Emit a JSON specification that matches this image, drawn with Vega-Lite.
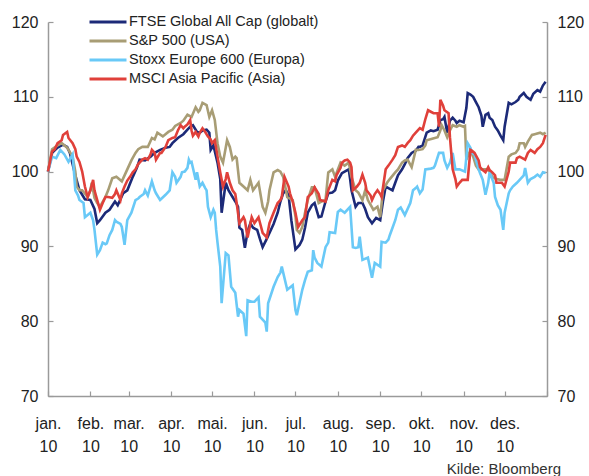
{
"$schema":"https://vega.github.io/schema/vega-lite/v6.json",
"width":499,"height":374,
"autosize":"none",
"padding":{"left":48,"top":22,"right":42,"bottom":80},
"background":"white",
"config":{"view":{"stroke":null},"font":"Liberation Sans"},
"title":{"text":"Kilde: Bloomberg","orient":"bottom","anchor":"end","frame":"group","dx":14,"fontSize":15,"fontWeight":"normal","font":"Liberation Sans","color":"#333","offset":8},
"datasets":{"names":[{"s":"F","serie":"FTSE Global All Cap (globalt)"},{"s":"U","serie":"S&P 500 (USA)"},{"s":"E","serie":"Stoxx Europe 600 (Europa)"},{"s":"A","serie":"MSCI Asia Pacific (Asia)"}]},
"data":{"values":[
{"s":"F","d":"2010-01-01","v":100},{"s":"F","d":"2010-01-04","v":102.5},{"s":"F","d":"2010-01-08","v":103.2},{"s":"F","d":"2010-01-12","v":103.6},{"s":"F","d":"2010-01-15","v":103.3},{"s":"F","d":"2010-01-17","v":102.5},{"s":"F","d":"2010-01-21","v":99.5},{"s":"F","d":"2010-01-24","v":97.5},{"s":"F","d":"2010-01-28","v":96.3},{"s":"F","d":"2010-02-01","v":96.2},{"s":"F","d":"2010-02-04","v":95},{"s":"F","d":"2010-02-06","v":93.1},{"s":"F","d":"2010-02-08","v":93.5},{"s":"F","d":"2010-02-12","v":94.5},{"s":"F","d":"2010-02-15","v":94.9},{"s":"F","d":"2010-02-19","v":96},{"s":"F","d":"2010-02-21","v":95.5},{"s":"F","d":"2010-02-25","v":97.1},{"s":"F","d":"2010-02-28","v":97.5},{"s":"F","d":"2010-03-04","v":99.3},{"s":"F","d":"2010-03-07","v":100.5},{"s":"F","d":"2010-03-09","v":101.6},{"s":"F","d":"2010-03-13","v":101.5},{"s":"F","d":"2010-03-17","v":102},{"s":"F","d":"2010-03-20","v":102.5},{"s":"F","d":"2010-03-24","v":102.9},{"s":"F","d":"2010-03-28","v":103.2},{"s":"F","d":"2010-03-31","v":103.3},{"s":"F","d":"2010-04-02","v":103.8},{"s":"F","d":"2010-04-06","v":104.5},{"s":"F","d":"2010-04-10","v":105},{"s":"F","d":"2010-04-13","v":105.6},{"s":"F","d":"2010-04-15","v":106},{"s":"F","d":"2010-04-17","v":106.2},{"s":"F","d":"2010-04-20","v":105.3},{"s":"F","d":"2010-04-22","v":105.2},{"s":"F","d":"2010-04-24","v":105.5},{"s":"F","d":"2010-04-27","v":105.6},{"s":"F","d":"2010-04-29","v":105.2},{"s":"F","d":"2010-04-30","v":102.9},{"s":"F","d":"2010-05-02","v":103.5},{"s":"F","d":"2010-05-05","v":101.2},{"s":"F","d":"2010-05-07","v":99},{"s":"F","d":"2010-05-08","v":94.5},{"s":"F","d":"2010-05-11","v":98.5},{"s":"F","d":"2010-05-13","v":97.5},{"s":"F","d":"2010-05-16","v":96.6},{"s":"F","d":"2010-05-18","v":96},{"s":"F","d":"2010-05-20","v":95.3},{"s":"F","d":"2010-05-21","v":92.5},{"s":"F","d":"2010-05-23","v":92.2},{"s":"F","d":"2010-05-25","v":89.8},{"s":"F","d":"2010-05-27","v":92},{"s":"F","d":"2010-05-29","v":93.1},{"s":"F","d":"2010-05-31","v":92.5},{"s":"F","d":"2010-06-03","v":92.2},{"s":"F","d":"2010-06-05","v":91},{"s":"F","d":"2010-06-07","v":89.9},{"s":"F","d":"2010-06-10","v":91},{"s":"F","d":"2010-06-12","v":91.8},{"s":"F","d":"2010-06-15","v":93},{"s":"F","d":"2010-06-18","v":94.5},{"s":"F","d":"2010-06-20","v":96},{"s":"F","d":"2010-06-22","v":97.1},{"s":"F","d":"2010-06-24","v":97.5},{"s":"F","d":"2010-06-26","v":96.8},{"s":"F","d":"2010-06-28","v":93.5},{"s":"F","d":"2010-06-29","v":92.2},{"s":"F","d":"2010-07-01","v":89.6},{"s":"F","d":"2010-07-04","v":90.2},{"s":"F","d":"2010-07-06","v":90.9},{"s":"F","d":"2010-07-08","v":92.5},{"s":"F","d":"2010-07-10","v":94.5},{"s":"F","d":"2010-07-13","v":95.5},{"s":"F","d":"2010-07-15","v":95.8},{"s":"F","d":"2010-07-18","v":93.9},{"s":"F","d":"2010-07-20","v":94},{"s":"F","d":"2010-07-23","v":96},{"s":"F","d":"2010-07-25","v":97.1},{"s":"F","d":"2010-07-28","v":97.2},{"s":"F","d":"2010-07-30","v":97.5},{"s":"F","d":"2010-08-01","v":98.8},{"s":"F","d":"2010-08-04","v":99.8},{"s":"F","d":"2010-08-06","v":100},{"s":"F","d":"2010-08-09","v":100.3},{"s":"F","d":"2010-08-10","v":99},{"s":"F","d":"2010-08-11","v":97.5},{"s":"F","d":"2010-08-14","v":95.3},{"s":"F","d":"2010-08-16","v":95.8},{"s":"F","d":"2010-08-19","v":95.8},{"s":"F","d":"2010-08-21","v":95},{"s":"F","d":"2010-08-23","v":93.9},{"s":"F","d":"2010-08-26","v":93.1},{"s":"F","d":"2010-08-29","v":93.8},{"s":"F","d":"2010-09-01","v":93.5},{"s":"F","d":"2010-09-03","v":96},{"s":"F","d":"2010-09-05","v":98},{"s":"F","d":"2010-09-07","v":97.8},{"s":"F","d":"2010-09-10","v":97.5},{"s":"F","d":"2010-09-12","v":98.5},{"s":"F","d":"2010-09-14","v":99.5},{"s":"F","d":"2010-09-17","v":100.3},{"s":"F","d":"2010-09-19","v":101},{"s":"F","d":"2010-09-21","v":101.8},{"s":"F","d":"2010-09-24","v":102.5},{"s":"F","d":"2010-09-27","v":102.8},{"s":"F","d":"2010-09-29","v":103.3},{"s":"F","d":"2010-09-30","v":103.3},{"s":"F","d":"2010-10-02","v":103.5},{"s":"F","d":"2010-10-05","v":105.2},{"s":"F","d":"2010-10-08","v":105.5},{"s":"F","d":"2010-10-10","v":105.4},{"s":"F","d":"2010-10-13","v":105.6},{"s":"F","d":"2010-10-15","v":106.9},{"s":"F","d":"2010-10-17","v":107},{"s":"F","d":"2010-10-18","v":107.3},{"s":"F","d":"2010-10-20","v":105.2},{"s":"F","d":"2010-10-22","v":106.8},{"s":"F","d":"2010-10-24","v":107.2},{"s":"F","d":"2010-10-26","v":106.8},{"s":"F","d":"2010-10-27","v":106.5},{"s":"F","d":"2010-10-29","v":106.8},{"s":"F","d":"2010-11-01","v":106.6},{"s":"F","d":"2010-11-03","v":108.5},{"s":"F","d":"2010-11-04","v":110.5},{"s":"F","d":"2010-11-06","v":110.3},{"s":"F","d":"2010-11-08","v":110},{"s":"F","d":"2010-11-10","v":109.3},{"s":"F","d":"2010-11-12","v":108.6},{"s":"F","d":"2010-11-14","v":107.5},{"s":"F","d":"2010-11-15","v":106},{"s":"F","d":"2010-11-17","v":107.6},{"s":"F","d":"2010-11-19","v":107.8},{"s":"F","d":"2010-11-20","v":107.2},{"s":"F","d":"2010-11-22","v":106.9},{"s":"F","d":"2010-11-24","v":106},{"s":"F","d":"2010-11-26","v":105.5},{"s":"F","d":"2010-11-28","v":104.8},{"s":"F","d":"2010-11-30","v":104.2},{"s":"F","d":"2010-12-01","v":106},{"s":"F","d":"2010-12-04","v":109.2},{"s":"F","d":"2010-12-06","v":109},{"s":"F","d":"2010-12-09","v":109.3},{"s":"F","d":"2010-12-11","v":109.6},{"s":"F","d":"2010-12-12","v":110},{"s":"F","d":"2010-12-15","v":110.5},{"s":"F","d":"2010-12-17","v":110},{"s":"F","d":"2010-12-20","v":109.6},{"s":"F","d":"2010-12-22","v":110.4},{"s":"F","d":"2010-12-25","v":110.9},{"s":"F","d":"2010-12-27","v":110.7},{"s":"F","d":"2010-12-29","v":111.5},{"s":"F","d":"2010-12-31","v":112},
{"s":"U","d":"2010-01-01","v":100},{"s":"U","d":"2010-01-04","v":103},{"s":"U","d":"2010-01-08","v":103.5},{"s":"U","d":"2010-01-11","v":103.8},{"s":"U","d":"2010-01-15","v":103.2},{"s":"U","d":"2010-01-19","v":102},{"s":"U","d":"2010-01-21","v":100},{"s":"U","d":"2010-01-22","v":98},{"s":"U","d":"2010-01-24","v":97.5},{"s":"U","d":"2010-01-26","v":97.5},{"s":"U","d":"2010-01-30","v":96.6},{"s":"U","d":"2010-02-01","v":97.5},{"s":"U","d":"2010-02-02","v":98.5},{"s":"U","d":"2010-02-04","v":96.5},{"s":"U","d":"2010-02-06","v":95.8},{"s":"U","d":"2010-02-08","v":95.3},{"s":"U","d":"2010-02-12","v":96.6},{"s":"U","d":"2010-02-14","v":97.5},{"s":"U","d":"2010-02-17","v":99.1},{"s":"U","d":"2010-02-20","v":99.3},{"s":"U","d":"2010-02-24","v":98.7},{"s":"U","d":"2010-02-26","v":99.5},{"s":"U","d":"2010-02-28","v":100.3},{"s":"U","d":"2010-03-03","v":101.5},{"s":"U","d":"2010-03-06","v":102.5},{"s":"U","d":"2010-03-08","v":103},{"s":"U","d":"2010-03-11","v":103.3},{"s":"U","d":"2010-03-15","v":103.3},{"s":"U","d":"2010-03-18","v":104.5},{"s":"U","d":"2010-03-20","v":104.3},{"s":"U","d":"2010-03-22","v":105.2},{"s":"U","d":"2010-03-26","v":104.7},{"s":"U","d":"2010-03-30","v":105.3},{"s":"U","d":"2010-04-02","v":105.6},{"s":"U","d":"2010-04-04","v":106.1},{"s":"U","d":"2010-04-08","v":106.5},{"s":"U","d":"2010-04-10","v":106.8},{"s":"U","d":"2010-04-13","v":107.6},{"s":"U","d":"2010-04-16","v":107.3},{"s":"U","d":"2010-04-19","v":108.6},{"s":"U","d":"2010-04-21","v":108},{"s":"U","d":"2010-04-22","v":108.2},{"s":"U","d":"2010-04-24","v":109.2},{"s":"U","d":"2010-04-27","v":108.9},{"s":"U","d":"2010-04-29","v":107.3},{"s":"U","d":"2010-05-01","v":108.2},{"s":"U","d":"2010-05-03","v":106.9},{"s":"U","d":"2010-05-05","v":103.8},{"s":"U","d":"2010-05-07","v":102},{"s":"U","d":"2010-05-09","v":101.2},{"s":"U","d":"2010-05-12","v":104.2},{"s":"U","d":"2010-05-14","v":103.3},{"s":"U","d":"2010-05-16","v":101.6},{"s":"U","d":"2010-05-18","v":102},{"s":"U","d":"2010-05-19","v":101.8},{"s":"U","d":"2010-05-21","v":98.5},{"s":"U","d":"2010-05-24","v":98},{"s":"U","d":"2010-05-27","v":97.5},{"s":"U","d":"2010-05-29","v":98.9},{"s":"U","d":"2010-05-31","v":97.5},{"s":"U","d":"2010-06-02","v":98},{"s":"U","d":"2010-06-04","v":98.5},{"s":"U","d":"2010-06-07","v":95.3},{"s":"U","d":"2010-06-09","v":94.5},{"s":"U","d":"2010-06-11","v":96},{"s":"U","d":"2010-06-12","v":97.5},{"s":"U","d":"2010-06-15","v":99.9},{"s":"U","d":"2010-06-18","v":100.2},{"s":"U","d":"2010-06-20","v":100},{"s":"U","d":"2010-06-22","v":99.3},{"s":"U","d":"2010-06-23","v":98.5},{"s":"U","d":"2010-06-25","v":96.6},{"s":"U","d":"2010-06-29","v":96.2},{"s":"U","d":"2010-07-01","v":94},{"s":"U","d":"2010-07-02","v":92.2},{"s":"U","d":"2010-07-04","v":91.8},{"s":"U","d":"2010-07-06","v":92.6},{"s":"U","d":"2010-07-08","v":94.5},{"s":"U","d":"2010-07-10","v":96.2},{"s":"U","d":"2010-07-13","v":97.9},{"s":"U","d":"2010-07-15","v":97.9},{"s":"U","d":"2010-07-18","v":95.8},{"s":"U","d":"2010-07-20","v":96},{"s":"U","d":"2010-07-23","v":96.2},{"s":"U","d":"2010-07-25","v":99.9},{"s":"U","d":"2010-07-28","v":100.3},{"s":"U","d":"2010-07-30","v":99.3},{"s":"U","d":"2010-08-03","v":101.2},{"s":"U","d":"2010-08-06","v":100.8},{"s":"U","d":"2010-08-09","v":101.2},{"s":"U","d":"2010-08-11","v":99.3},{"s":"U","d":"2010-08-14","v":97.5},{"s":"U","d":"2010-08-16","v":97.2},{"s":"U","d":"2010-08-19","v":96.2},{"s":"U","d":"2010-08-21","v":97.5},{"s":"U","d":"2010-08-23","v":96.2},{"s":"U","d":"2010-08-27","v":94.9},{"s":"U","d":"2010-08-30","v":95.3},{"s":"U","d":"2010-09-01","v":93.9},{"s":"U","d":"2010-09-03","v":97.5},{"s":"U","d":"2010-09-06","v":98.5},{"s":"U","d":"2010-09-08","v":99},{"s":"U","d":"2010-09-12","v":99.9},{"s":"U","d":"2010-09-14","v":100.3},{"s":"U","d":"2010-09-17","v":101.2},{"s":"U","d":"2010-09-19","v":101.5},{"s":"U","d":"2010-09-21","v":101.6},{"s":"U","d":"2010-09-24","v":100.6},{"s":"U","d":"2010-09-27","v":102.9},{"s":"U","d":"2010-09-29","v":102.9},{"s":"U","d":"2010-10-02","v":103},{"s":"U","d":"2010-10-04","v":103.5},{"s":"U","d":"2010-10-05","v":104.2},{"s":"U","d":"2010-10-09","v":104.4},{"s":"U","d":"2010-10-13","v":104.6},{"s":"U","d":"2010-10-15","v":105.5},{"s":"U","d":"2010-10-16","v":106.2},{"s":"U","d":"2010-10-18","v":105.5},{"s":"U","d":"2010-10-20","v":104.6},{"s":"U","d":"2010-10-22","v":105.5},{"s":"U","d":"2010-10-24","v":106.2},{"s":"U","d":"2010-10-27","v":106},{"s":"U","d":"2010-10-29","v":106.2},{"s":"U","d":"2010-11-01","v":106},{"s":"U","d":"2010-11-02","v":106.1},{"s":"U","d":"2010-11-03","v":101.6},{"s":"U","d":"2010-11-06","v":102.9},{"s":"U","d":"2010-11-08","v":102},{"s":"U","d":"2010-11-10","v":100.8},{"s":"U","d":"2010-11-12","v":100.3},{"s":"U","d":"2010-11-15","v":100.3},{"s":"U","d":"2010-11-18","v":100.3},{"s":"U","d":"2010-11-20","v":100},{"s":"U","d":"2010-11-22","v":99.3},{"s":"U","d":"2010-11-25","v":99},{"s":"U","d":"2010-11-28","v":98.9},{"s":"U","d":"2010-12-01","v":98.9},{"s":"U","d":"2010-12-04","v":102},{"s":"U","d":"2010-12-06","v":102.3},{"s":"U","d":"2010-12-09","v":102.5},{"s":"U","d":"2010-12-11","v":103},{"s":"U","d":"2010-12-12","v":103.8},{"s":"U","d":"2010-12-15","v":103.8},{"s":"U","d":"2010-12-16","v":103.3},{"s":"U","d":"2010-12-18","v":104},{"s":"U","d":"2010-12-21","v":104.9},{"s":"U","d":"2010-12-23","v":105},{"s":"U","d":"2010-12-27","v":105.2},{"s":"U","d":"2010-12-29","v":105},{"s":"U","d":"2010-12-31","v":105.2},
{"s":"E","d":"2010-01-01","v":100},{"s":"E","d":"2010-01-04","v":102},{"s":"E","d":"2010-01-07","v":101.8},{"s":"E","d":"2010-01-10","v":102.9},{"s":"E","d":"2010-01-12","v":102.5},{"s":"E","d":"2010-01-13","v":102.3},{"s":"E","d":"2010-01-16","v":101.3},{"s":"E","d":"2010-01-19","v":102.3},{"s":"E","d":"2010-01-21","v":97.5},{"s":"E","d":"2010-01-23","v":96.8},{"s":"E","d":"2010-01-24","v":96.2},{"s":"E","d":"2010-01-27","v":95.8},{"s":"E","d":"2010-01-28","v":93.9},{"s":"E","d":"2010-01-30","v":94.2},{"s":"E","d":"2010-02-01","v":94.5},{"s":"E","d":"2010-02-03","v":93.5},{"s":"E","d":"2010-02-04","v":92.2},{"s":"E","d":"2010-02-06","v":88.9},{"s":"E","d":"2010-02-08","v":89.5},{"s":"E","d":"2010-02-10","v":90.5},{"s":"E","d":"2010-02-12","v":90.3},{"s":"E","d":"2010-02-13","v":90.4},{"s":"E","d":"2010-02-15","v":91.5},{"s":"E","d":"2010-02-17","v":92.2},{"s":"E","d":"2010-02-19","v":93.5},{"s":"E","d":"2010-02-20","v":93.3},{"s":"E","d":"2010-02-23","v":93},{"s":"E","d":"2010-02-24","v":92.6},{"s":"E","d":"2010-02-26","v":90.2},{"s":"E","d":"2010-02-28","v":93.5},{"s":"E","d":"2010-03-03","v":94.5},{"s":"E","d":"2010-03-06","v":96.2},{"s":"E","d":"2010-03-08","v":96.4},{"s":"E","d":"2010-03-09","v":96.6},{"s":"E","d":"2010-03-12","v":97},{"s":"E","d":"2010-03-13","v":97.5},{"s":"E","d":"2010-03-15","v":96.8},{"s":"E","d":"2010-03-18","v":98.7},{"s":"E","d":"2010-03-20","v":97.5},{"s":"E","d":"2010-03-21","v":97.1},{"s":"E","d":"2010-03-24","v":96.2},{"s":"E","d":"2010-03-28","v":96.9},{"s":"E","d":"2010-03-31","v":97.5},{"s":"E","d":"2010-04-02","v":99.9},{"s":"E","d":"2010-04-04","v":99.3},{"s":"E","d":"2010-04-05","v":98.5},{"s":"E","d":"2010-04-08","v":99.3},{"s":"E","d":"2010-04-09","v":99.9},{"s":"E","d":"2010-04-11","v":100},{"s":"E","d":"2010-04-13","v":100.5},{"s":"E","d":"2010-04-14","v":101.6},{"s":"E","d":"2010-04-15","v":101.2},{"s":"E","d":"2010-04-16","v":101.3},{"s":"E","d":"2010-04-19","v":98.9},{"s":"E","d":"2010-04-20","v":99.9},{"s":"E","d":"2010-04-22","v":98},{"s":"E","d":"2010-04-24","v":98.5},{"s":"E","d":"2010-04-26","v":97.8},{"s":"E","d":"2010-04-27","v":97.5},{"s":"E","d":"2010-04-28","v":95.3},{"s":"E","d":"2010-04-30","v":93.9},{"s":"E","d":"2010-05-02","v":94.9},{"s":"E","d":"2010-05-03","v":94.5},{"s":"E","d":"2010-05-04","v":92.2},{"s":"E","d":"2010-05-05","v":90.5},{"s":"E","d":"2010-05-07","v":87.3},{"s":"E","d":"2010-05-08","v":82.4},{"s":"E","d":"2010-05-11","v":89.1},{"s":"E","d":"2010-05-13","v":88.8},{"s":"E","d":"2010-05-15","v":84.6},{"s":"E","d":"2010-05-18","v":83.8},{"s":"E","d":"2010-05-20","v":80.6},{"s":"E","d":"2010-05-21","v":81.5},{"s":"E","d":"2010-05-24","v":81},{"s":"E","d":"2010-05-26","v":78},{"s":"E","d":"2010-05-27","v":82.8},{"s":"E","d":"2010-05-30","v":82.6},{"s":"E","d":"2010-06-01","v":82.6},{"s":"E","d":"2010-06-04","v":83.2},{"s":"E","d":"2010-06-05","v":80.6},{"s":"E","d":"2010-06-07","v":80.2},{"s":"E","d":"2010-06-09","v":79.8},{"s":"E","d":"2010-06-10","v":78.6},{"s":"E","d":"2010-06-11","v":82.4},{"s":"E","d":"2010-06-15","v":84.6},{"s":"E","d":"2010-06-18","v":85.9},{"s":"E","d":"2010-06-20","v":86.5},{"s":"E","d":"2010-06-21","v":87.3},{"s":"E","d":"2010-06-25","v":84.2},{"s":"E","d":"2010-06-27","v":84.5},{"s":"E","d":"2010-06-29","v":84.8},{"s":"E","d":"2010-07-01","v":81.5},{"s":"E","d":"2010-07-02","v":80.8},{"s":"E","d":"2010-07-04","v":82.5},{"s":"E","d":"2010-07-06","v":84.2},{"s":"E","d":"2010-07-08","v":85.5},{"s":"E","d":"2010-07-10","v":86.6},{"s":"E","d":"2010-07-13","v":86.8},{"s":"E","d":"2010-07-14","v":89.5},{"s":"E","d":"2010-07-15","v":88.5},{"s":"E","d":"2010-07-17","v":87.8},{"s":"E","d":"2010-07-20","v":87.3},{"s":"E","d":"2010-07-23","v":89.9},{"s":"E","d":"2010-07-25","v":90.5},{"s":"E","d":"2010-07-26","v":91.9},{"s":"E","d":"2010-07-30","v":91.8},{"s":"E","d":"2010-08-01","v":94.6},{"s":"E","d":"2010-08-03","v":94.9},{"s":"E","d":"2010-08-06","v":94.5},{"s":"E","d":"2010-08-10","v":95.3},{"s":"E","d":"2010-08-12","v":89.9},{"s":"E","d":"2010-08-14","v":89.8},{"s":"E","d":"2010-08-16","v":89.9},{"s":"E","d":"2010-08-17","v":91.3},{"s":"E","d":"2010-08-19","v":88.2},{"s":"E","d":"2010-08-23","v":88.5},{"s":"E","d":"2010-08-26","v":85.8},{"s":"E","d":"2010-08-28","v":87.8},{"s":"E","d":"2010-09-01","v":87.3},{"s":"E","d":"2010-09-02","v":90.6},{"s":"E","d":"2010-09-05","v":90.5},{"s":"E","d":"2010-09-07","v":90.9},{"s":"E","d":"2010-09-08","v":91.5},{"s":"E","d":"2010-09-10","v":92.5},{"s":"E","d":"2010-09-12","v":93.5},{"s":"E","d":"2010-09-14","v":94.9},{"s":"E","d":"2010-09-16","v":95.2},{"s":"E","d":"2010-09-19","v":94.2},{"s":"E","d":"2010-09-23","v":95.8},{"s":"E","d":"2010-09-25","v":97.5},{"s":"E","d":"2010-09-27","v":97.8},{"s":"E","d":"2010-09-28","v":98},{"s":"E","d":"2010-09-30","v":97.1},{"s":"E","d":"2010-10-02","v":97.6},{"s":"E","d":"2010-10-04","v":100.3},{"s":"E","d":"2010-10-08","v":100.4},{"s":"E","d":"2010-10-10","v":100.5},{"s":"E","d":"2010-10-11","v":100.8},{"s":"E","d":"2010-10-14","v":102.5},{"s":"E","d":"2010-10-17","v":102.5},{"s":"E","d":"2010-10-18","v":101.5},{"s":"E","d":"2010-10-20","v":100.5},{"s":"E","d":"2010-10-22","v":101.2},{"s":"E","d":"2010-10-24","v":102.5},{"s":"E","d":"2010-10-26","v":100.3},{"s":"E","d":"2010-10-29","v":100.3},{"s":"E","d":"2010-11-02","v":100},{"s":"E","d":"2010-11-04","v":103.8},{"s":"E","d":"2010-11-06","v":103.2},{"s":"E","d":"2010-11-07","v":102.5},{"s":"E","d":"2010-11-09","v":102.3},{"s":"E","d":"2010-11-12","v":100.3},{"s":"E","d":"2010-11-13","v":99.8},{"s":"E","d":"2010-11-15","v":98.9},{"s":"E","d":"2010-11-17","v":96.9},{"s":"E","d":"2010-11-19","v":98.5},{"s":"E","d":"2010-11-20","v":99.9},{"s":"E","d":"2010-11-23","v":98.5},{"s":"E","d":"2010-11-24","v":96.6},{"s":"E","d":"2010-11-26","v":95.5},{"s":"E","d":"2010-11-28","v":94.9},{"s":"E","d":"2010-11-30","v":92.2},{"s":"E","d":"2010-12-01","v":94.5},{"s":"E","d":"2010-12-04","v":97.1},{"s":"E","d":"2010-12-05","v":97.5},{"s":"E","d":"2010-12-07","v":98},{"s":"E","d":"2010-12-10","v":98.5},{"s":"E","d":"2010-12-12","v":98.9},{"s":"E","d":"2010-12-15","v":99.5},{"s":"E","d":"2010-12-16","v":100.5},{"s":"E","d":"2010-12-18","v":98.5},{"s":"E","d":"2010-12-20","v":99},{"s":"E","d":"2010-12-23","v":99.3},{"s":"E","d":"2010-12-25","v":99.6},{"s":"E","d":"2010-12-27","v":99.3},{"s":"E","d":"2010-12-29","v":99.9},{"s":"E","d":"2010-12-31","v":99.8},
{"s":"A","d":"2010-01-01","v":100},{"s":"A","d":"2010-01-04","v":102.7},{"s":"A","d":"2010-01-06","v":103},{"s":"A","d":"2010-01-08","v":103.8},{"s":"A","d":"2010-01-11","v":104.2},{"s":"A","d":"2010-01-12","v":104.9},{"s":"A","d":"2010-01-15","v":105.3},{"s":"A","d":"2010-01-16","v":104.5},{"s":"A","d":"2010-01-19","v":103.8},{"s":"A","d":"2010-01-21","v":103},{"s":"A","d":"2010-01-22","v":102},{"s":"A","d":"2010-01-24","v":101.3},{"s":"A","d":"2010-01-26","v":100},{"s":"A","d":"2010-01-28","v":98},{"s":"A","d":"2010-01-30","v":96.6},{"s":"A","d":"2010-02-01","v":97.5},{"s":"A","d":"2010-02-03","v":98.9},{"s":"A","d":"2010-02-04","v":97.5},{"s":"A","d":"2010-02-06","v":96.2},{"s":"A","d":"2010-02-08","v":94.9},{"s":"A","d":"2010-02-10","v":95.8},{"s":"A","d":"2010-02-12","v":96.6},{"s":"A","d":"2010-02-14","v":96.6},{"s":"A","d":"2010-02-17","v":96.5},{"s":"A","d":"2010-02-19","v":97},{"s":"A","d":"2010-02-20","v":97.5},{"s":"A","d":"2010-02-23","v":96.2},{"s":"A","d":"2010-02-24","v":97.1},{"s":"A","d":"2010-02-26","v":98},{"s":"A","d":"2010-02-28","v":98.8},{"s":"A","d":"2010-03-02","v":99.3},{"s":"A","d":"2010-03-04","v":99.9},{"s":"A","d":"2010-03-06","v":100.3},{"s":"A","d":"2010-03-08","v":101},{"s":"A","d":"2010-03-11","v":101.6},{"s":"A","d":"2010-03-13","v":101.8},{"s":"A","d":"2010-03-15","v":101.6},{"s":"A","d":"2010-03-17","v":102.3},{"s":"A","d":"2010-03-18","v":102.9},{"s":"A","d":"2010-03-20","v":102.5},{"s":"A","d":"2010-03-21","v":101.6},{"s":"A","d":"2010-03-24","v":102.5},{"s":"A","d":"2010-03-25","v":102.5},{"s":"A","d":"2010-03-28","v":103.3},{"s":"A","d":"2010-03-30","v":104.2},{"s":"A","d":"2010-04-02","v":104.5},{"s":"A","d":"2010-04-04","v":104.6},{"s":"A","d":"2010-04-06","v":105.5},{"s":"A","d":"2010-04-08","v":106.2},{"s":"A","d":"2010-04-10","v":105.8},{"s":"A","d":"2010-04-11","v":106},{"s":"A","d":"2010-04-13","v":106.3},{"s":"A","d":"2010-04-15","v":106.9},{"s":"A","d":"2010-04-16","v":105.5},{"s":"A","d":"2010-04-17","v":104.8},{"s":"A","d":"2010-04-19","v":105.3},{"s":"A","d":"2010-04-21","v":104.7},{"s":"A","d":"2010-04-22","v":105.2},{"s":"A","d":"2010-04-24","v":105.8},{"s":"A","d":"2010-04-26","v":105.3},{"s":"A","d":"2010-04-28","v":104.7},{"s":"A","d":"2010-04-30","v":104.3},{"s":"A","d":"2010-05-01","v":103.8},{"s":"A","d":"2010-05-03","v":104.2},{"s":"A","d":"2010-05-05","v":102},{"s":"A","d":"2010-05-07","v":99.9},{"s":"A","d":"2010-05-09","v":98},{"s":"A","d":"2010-05-11","v":99},{"s":"A","d":"2010-05-12","v":99.9},{"s":"A","d":"2010-05-14","v":98.5},{"s":"A","d":"2010-05-16","v":97.5},{"s":"A","d":"2010-05-18","v":97},{"s":"A","d":"2010-05-19","v":95.8},{"s":"A","d":"2010-05-21","v":93.1},{"s":"A","d":"2010-05-24","v":93.9},{"s":"A","d":"2010-05-25","v":93.5},{"s":"A","d":"2010-05-27","v":91.2},{"s":"A","d":"2010-05-29","v":93},{"s":"A","d":"2010-05-30","v":93.9},{"s":"A","d":"2010-06-01","v":93.1},{"s":"A","d":"2010-06-04","v":93.9},{"s":"A","d":"2010-06-05","v":93.2},{"s":"A","d":"2010-06-07","v":91.8},{"s":"A","d":"2010-06-10","v":91.2},{"s":"A","d":"2010-06-12","v":93.1},{"s":"A","d":"2010-06-15","v":94.5},{"s":"A","d":"2010-06-18","v":95.8},{"s":"A","d":"2010-06-20","v":96.2},{"s":"A","d":"2010-06-21","v":96.6},{"s":"A","d":"2010-06-23","v":99.3},{"s":"A","d":"2010-06-26","v":98},{"s":"A","d":"2010-06-27","v":97.1},{"s":"A","d":"2010-06-29","v":96},{"s":"A","d":"2010-07-01","v":94.5},{"s":"A","d":"2010-07-03","v":92.6},{"s":"A","d":"2010-07-06","v":93.5},{"s":"A","d":"2010-07-08","v":93.9},{"s":"A","d":"2010-07-10","v":96.6},{"s":"A","d":"2010-07-13","v":97.1},{"s":"A","d":"2010-07-15","v":97.9},{"s":"A","d":"2010-07-18","v":97},{"s":"A","d":"2010-07-19","v":96.2},{"s":"A","d":"2010-07-23","v":96},{"s":"A","d":"2010-07-25","v":97.5},{"s":"A","d":"2010-07-28","v":98.9},{"s":"A","d":"2010-07-30","v":98.7},{"s":"A","d":"2010-07-31","v":99.5},{"s":"A","d":"2010-08-03","v":100.5},{"s":"A","d":"2010-08-04","v":101.2},{"s":"A","d":"2010-08-06","v":101.5},{"s":"A","d":"2010-08-08","v":101.6},{"s":"A","d":"2010-08-10","v":101.2},{"s":"A","d":"2010-08-11","v":100.6},{"s":"A","d":"2010-08-12","v":97.5},{"s":"A","d":"2010-08-15","v":98},{"s":"A","d":"2010-08-17","v":98.5},{"s":"A","d":"2010-08-19","v":99.6},{"s":"A","d":"2010-08-21","v":98.5},{"s":"A","d":"2010-08-22","v":97.5},{"s":"A","d":"2010-08-25","v":96.8},{"s":"A","d":"2010-08-26","v":96.2},{"s":"A","d":"2010-08-28","v":97},{"s":"A","d":"2010-08-30","v":97.5},{"s":"A","d":"2010-09-01","v":97},{"s":"A","d":"2010-09-02","v":96.6},{"s":"A","d":"2010-09-05","v":100.3},{"s":"A","d":"2010-09-07","v":100.8},{"s":"A","d":"2010-09-10","v":101.6},{"s":"A","d":"2010-09-12","v":102.2},{"s":"A","d":"2010-09-14","v":103.3},{"s":"A","d":"2010-09-17","v":103.5},{"s":"A","d":"2010-09-19","v":103.3},{"s":"A","d":"2010-09-21","v":103.8},{"s":"A","d":"2010-09-23","v":104.2},{"s":"A","d":"2010-09-25","v":104.8},{"s":"A","d":"2010-09-27","v":105.2},{"s":"A","d":"2010-09-29","v":105.6},{"s":"A","d":"2010-09-30","v":105.8},{"s":"A","d":"2010-10-02","v":105.6},{"s":"A","d":"2010-10-04","v":107},{"s":"A","d":"2010-10-06","v":108.2},{"s":"A","d":"2010-10-08","v":108},{"s":"A","d":"2010-10-10","v":107.8},{"s":"A","d":"2010-10-13","v":107.8},{"s":"A","d":"2010-10-14","v":106},{"s":"A","d":"2010-10-15","v":109.6},{"s":"A","d":"2010-10-17","v":108.8},{"s":"A","d":"2010-10-18","v":108.2},{"s":"A","d":"2010-10-21","v":107.8},{"s":"A","d":"2010-10-22","v":104.6},{"s":"A","d":"2010-10-24","v":100.3},{"s":"A","d":"2010-10-26","v":99},{"s":"A","d":"2010-10-27","v":98},{"s":"A","d":"2010-10-29","v":98.5},{"s":"A","d":"2010-10-31","v":98.9},{"s":"A","d":"2010-11-04","v":98.9},{"s":"A","d":"2010-11-06","v":102.9},{"s":"A","d":"2010-11-07","v":102.8},{"s":"A","d":"2010-11-09","v":102.5},{"s":"A","d":"2010-11-12","v":101.5},{"s":"A","d":"2010-11-13","v":100.6},{"s":"A","d":"2010-11-15","v":100.2},{"s":"A","d":"2010-11-17","v":99.9},{"s":"A","d":"2010-11-19","v":100.6},{"s":"A","d":"2010-11-20","v":100.2},{"s":"A","d":"2010-11-22","v":99.9},{"s":"A","d":"2010-11-24","v":99.5},{"s":"A","d":"2010-11-25","v":98.5},{"s":"A","d":"2010-11-29","v":98.5},{"s":"A","d":"2010-12-01","v":98},{"s":"A","d":"2010-12-04","v":100},{"s":"A","d":"2010-12-05","v":101.2},{"s":"A","d":"2010-12-09","v":101.2},{"s":"A","d":"2010-12-10","v":101.8},{"s":"A","d":"2010-12-12","v":102},{"s":"A","d":"2010-12-16","v":101.6},{"s":"A","d":"2010-12-18","v":102.5},{"s":"A","d":"2010-12-20","v":102.9},{"s":"A","d":"2010-12-23","v":102.5},{"s":"A","d":"2010-12-25","v":103},{"s":"A","d":"2010-12-27","v":103.3},{"s":"A","d":"2010-12-29","v":103.8},{"s":"A","d":"2010-12-31","v":104.9}
]},
"transform":[{"lookup":"s","from":{"data":{"name":"names"},"key":"s","fields":["serie"]}}],
"layer":[
{"mark":{"type":"line","strokeWidth":2.6,"interpolate":"linear"},
 "encoding":{
  "x":{"field":"d","type":"temporal","scale":{"type":"utc","domain":[1262304000000,1293840000000]},
       "axis":{"values":[1262304000000,1264982400000,1267401600000,1270080000000,1272672000000,1275350400000,1277942400000,1280620800000,1283299200000,1285891200000,1288569600000,1291161600000,1293840000000],
               "labelExpr":"utcyear(datum.value) > 2010 ? '' : [['jan.','feb.','mar.','apr.','mai.','jun.','jul.','aug.','sep.','okt.','nov.','des.'][utcmonth(datum.value)], '10']",
               "title":null,"grid":false,"ticks":true,"tickSize":-5,"labelPadding":24,"labelFontSize":16,"labelLineHeight":23,"labelFont":"Liberation Sans","labelColor":"#222","domainColor":"#9a9a9a","tickColor":"#9a9a9a","domainWidth":1.5,"tickWidth":1.2,"labelAlign":"center","labelBound":false,"labelFlush":false,"labelOverlap":false}},
  "y":{"field":"v","type":"quantitative","scale":{"domain":[70,120],"nice":false,"zero":false},
       "axis":{"orient":"left","values":[70,80,90,100,110,120],"title":null,"grid":false,"ticks":true,"tickSize":-5,"labelPadding":15,"labelFontSize":16,"labelFont":"Liberation Sans","labelColor":"#222","domainColor":"#9a9a9a","tickColor":"#9a9a9a","domainWidth":1.5,"tickWidth":1.2}},
  "color":{"field":"serie","type":"nominal",
       "scale":{"domain":["FTSE Global All Cap (globalt)","S&P 500 (USA)","Stoxx Europe 600 (Europa)","MSCI Asia Pacific (Asia)"],"range":["#1c2a78","#a89d75","#69c9f7","#e0403a"]},
       "legend":{"orient":"none","legendX":49,"legendY":-11,"title":null,"symbolType":"M-2,0H2","symbolSize":342,"symbolStrokeWidth":3,"labelFontSize":14.5,"labelFont":"Liberation Sans","labelColor":"#222","labelLimit":400,"rowPadding":1,"labelOffset":10,"padding":0}}
 }},
{"mark":{"type":"line","strokeOpacity":0},
 "encoding":{
  "x":{"field":"d","type":"temporal"},
  "y":{"field":"v","type":"quantitative",
       "axis":{"orient":"right","values":[70,80,90,100,110,120],"title":null,"grid":false,"ticks":true,"tickSize":-5,"labelPadding":15,"labelFontSize":16,"labelFont":"Liberation Sans","labelColor":"#222","domainColor":"#9a9a9a","tickColor":"#9a9a9a","domainWidth":1.5,"tickWidth":1.2}}
 }}
],
"resolve":{"axis":{"y":"independent"}}
}
